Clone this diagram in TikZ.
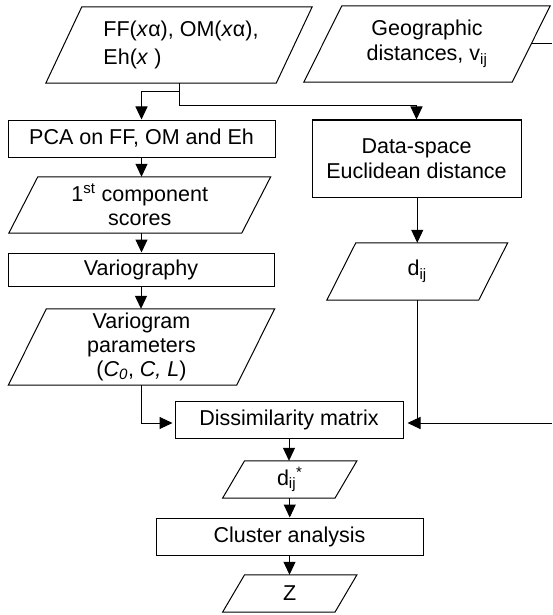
\documentclass[tikz,border=0pt]{standalone}
\usepackage{fontspec}
\setmainfont{Liberation Sans}
\usetikzlibrary{arrows.meta}
\newcommand\drawpara[2]{%
  \draw[line] ([xshift=#2/2]#1.north west) -- ([xshift=#2/2]#1.north east)
    -- ([xshift=-#2/2]#1.south east) -- ([xshift=-#2/2]#1.south west) -- cycle;}
\tikzset{
  line/.style={line width=1pt, line join=miter},
  arr/.style={line, -{Triangle[length=13pt,width=12pt]}},
  box/.style={draw, line width=1pt, inner sep=0pt, align=center,
    font=\fontsize{21.5}{25}\selectfont},
  iobox/.style={draw=none, inner sep=0pt, align=center,
    font=\fontsize{21.5}{25}\selectfont},
}
\begin{document}
\begin{tikzpicture}[x=1pt,y=-1pt]
\useasboundingbox (0,0) rectangle (552,615);
% input parallelograms
\node[iobox, align=left, font=\fontsize{21.5}{28}\selectfont,
  minimum width=230, minimum height=76] (ff) at (179,45)
  {\hspace*{4pt}FF(\textit{x}α), OM(\textit{x}α),\\\hspace*{4pt}Eh(\textit{x} )};
\drawpara{ff}{36}
\node[iobox, minimum width=208, minimum height=76] (geo) at (427,44)
  {Geographic\\distances, v\textsubscript{ij}};
\drawpara{geo}{38}
% left column
\node[box, minimum width=267, minimum height=37] (pca) at (141.5,138.5)
  {PCA on FF, OM and Eh};
\node[iobox, font=\fontsize{21.5}{24}\selectfont,
  minimum width=232.5, minimum height=56] (comp) at (139.75,205)
  {1\textsuperscript{st} component\\scores};
\drawpara{comp}{29}
\node[box, minimum width=266, minimum height=33] (vgy) at (141,269.5)
  {Variography};
\node[iobox, font=\fontsize{21.5}{24}\selectfont,
  minimum width=228, minimum height=76] (vgm) at (141.5,347)
  {Variogram\\parameters\\(\textit{C\textsubscript{0}}, \textit{C, L})};
\drawpara{vgm}{38}
% right column
\node[box, minimum width=209, minimum height=77] (ds) at (416.5,158.5)
  {Data-space\\Euclidean distance};
\node[iobox, minimum width=151.5, minimum height=57] (dij) at (417.25,271.5)
  {d\textsubscript{ij}};
\drawpara{dij}{29}
% bottom column
\node[box, minimum width=228, minimum height=37] (dis) at (289,419.5)
  {Dissimilarity matrix};
\node[iobox, minimum width=112, minimum height=37] (dstar) at (289.75,479.5)
  {d\textsubscript{ij}\textsuperscript{*}};
\drawpara{dstar}{22}
\node[box, minimum width=267, minimum height=37] (cl) at (289.5,536.5)
  {Cluster analysis};
\node[iobox, minimum width=112, minimum height=37] (z) at (289.75,593.5)
  {Z};
\drawpara{z}{22}
% connectors
\draw[arr] (ff.south) -- ++(0,8) -| (pca.north);
\draw[arr] (ff.south) -- ++(0,22) -| (ds.north);
\draw[arr] (pca.south) -- (pca.south |- comp.north);
\draw[arr] (comp.south -| pca.south) -- (pca.south |- vgy.north);
\draw[arr] (vgy.south) -- (vgy.south |- vgm.north);
\draw[arr, shorten >=2pt] (vgm.south) |- ([yshift=-3.5]dis.west);
\draw[arr] (ds.south -| dij.north) -- (dij.north);
\coordinate (re) at (552,423);
\coordinate (ge) at (552,44);
\draw[line] (geo.east) -- (ge);
\draw[line] (dij.south) -- (dij.south |- re);
\draw[arr, shorten >=4pt] (re) -- ([yshift=-3.5]dis.east);
\draw[arr] (dis.south) -- (dis.south |- dstar.north);
\draw[arr] (dstar.south) -- (dstar.south |- cl.north);
\draw[arr] (cl.south) -- (cl.south |- z.north);
\end{tikzpicture}
\end{document}
